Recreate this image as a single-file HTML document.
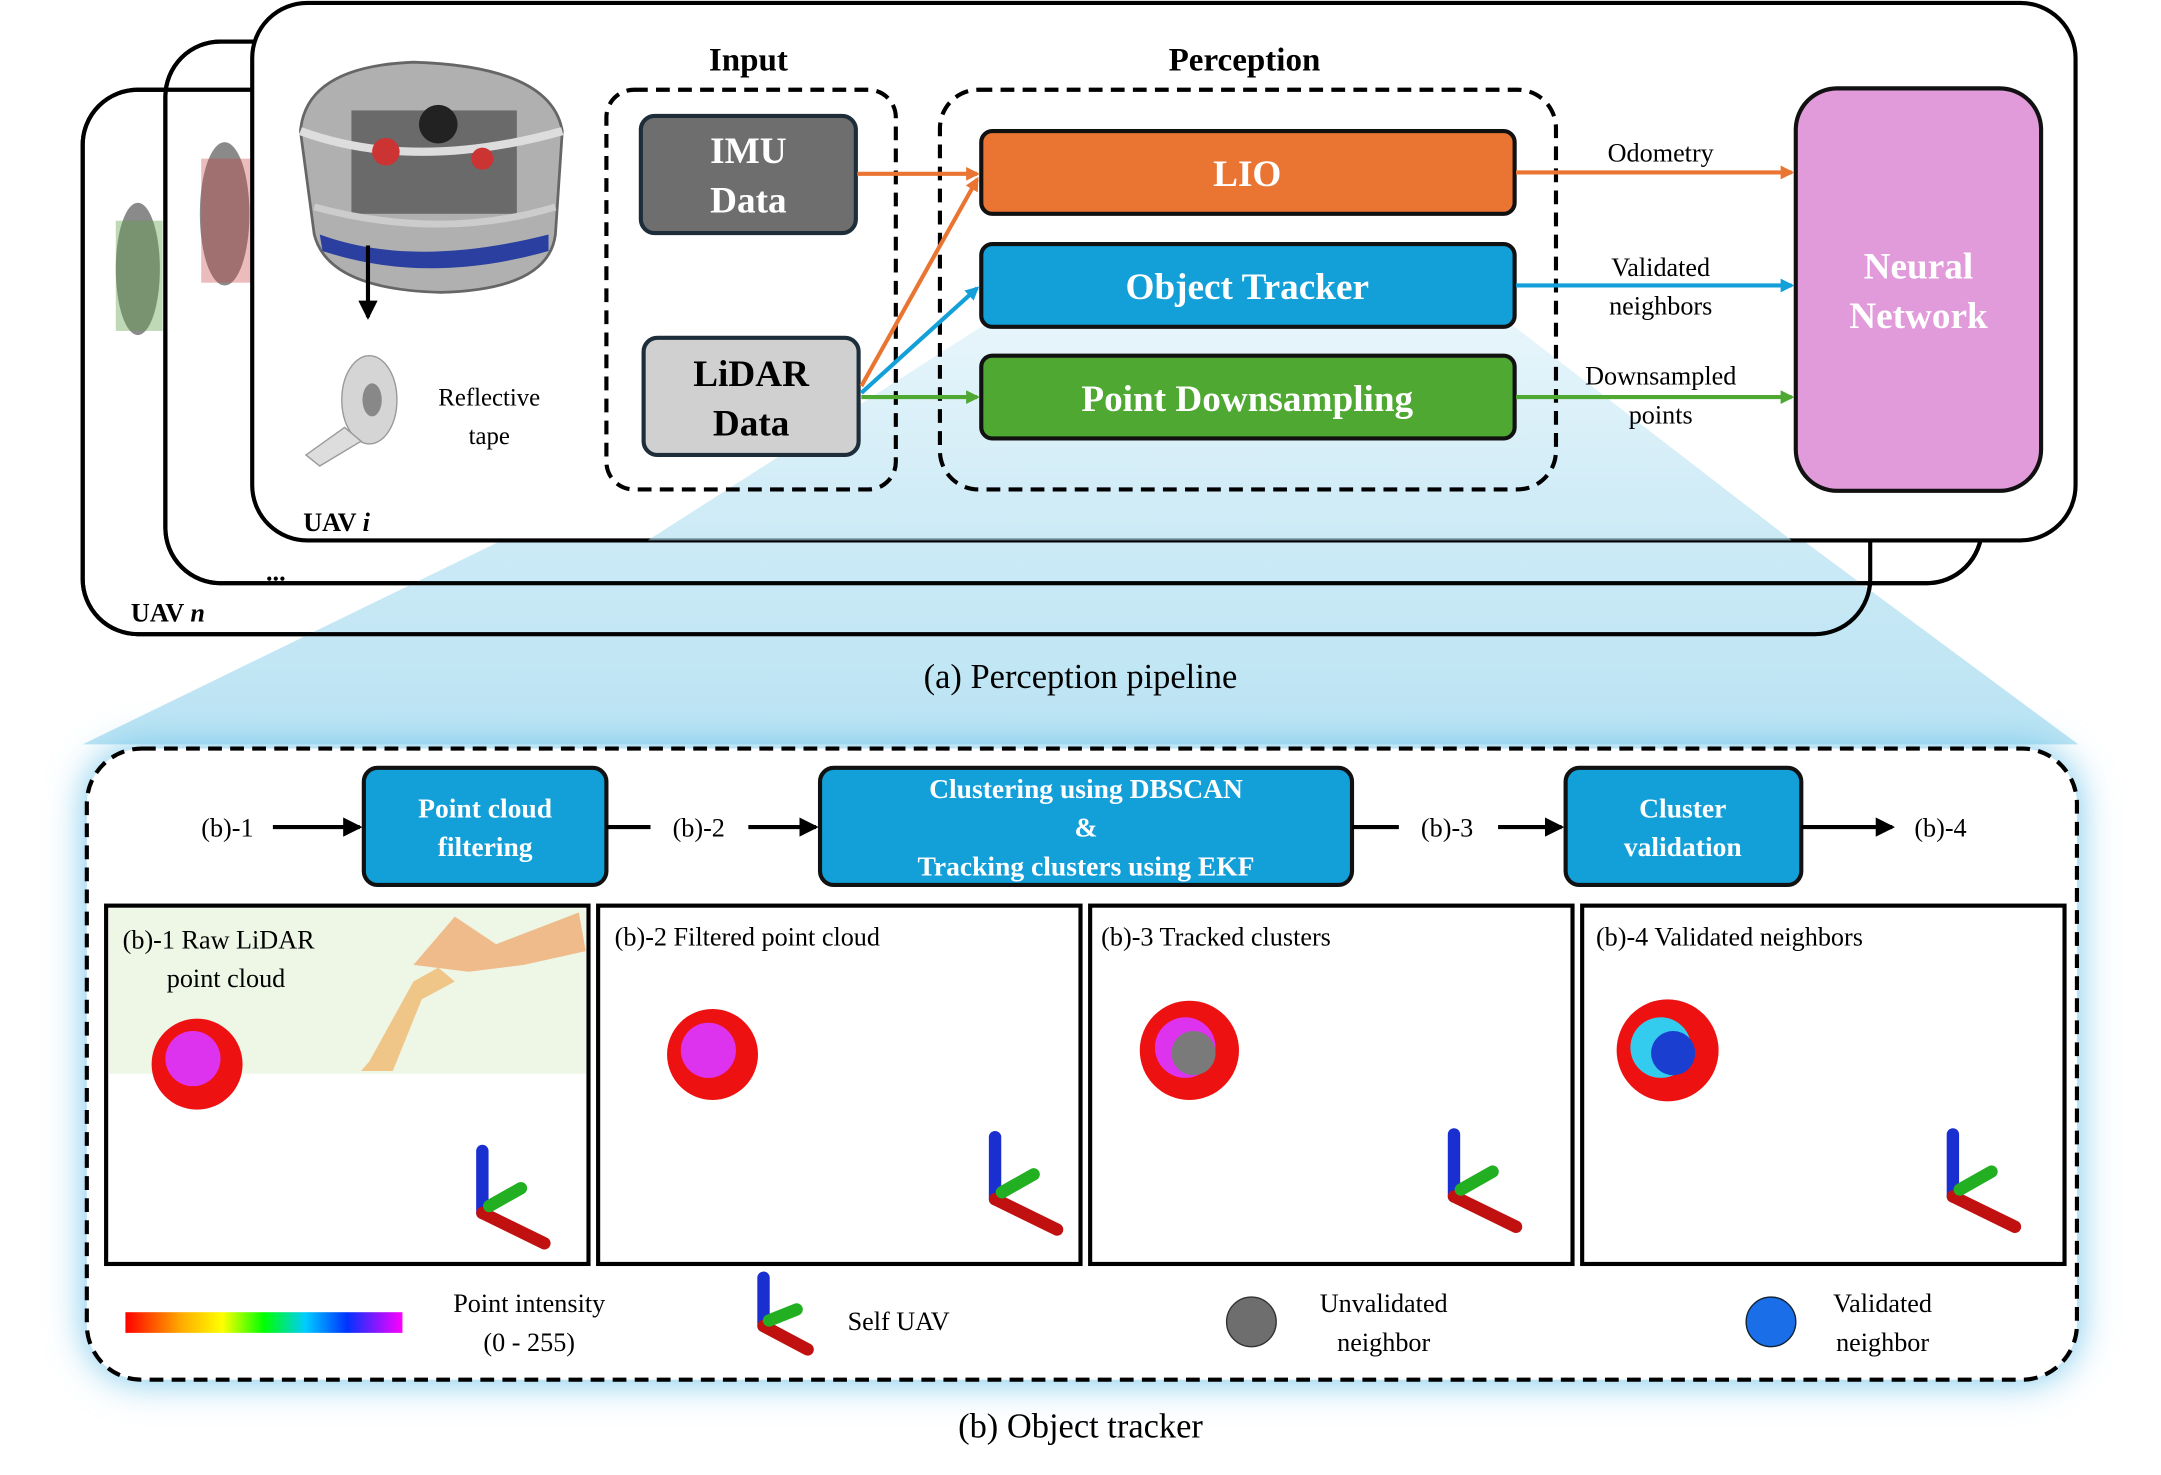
<!DOCTYPE html>
<html><head><meta charset="utf-8"><style>
html,body{margin:0;padding:0;background:#fff;}
svg{display:block;}
text{font-family:"Liberation Serif","Times New Roman",serif;}
</style></head><body>
<svg width="2161" height="1475" viewBox="0 0 1568 1070" xmlns="http://www.w3.org/2000/svg">
<defs>
<linearGradient id="tri" x1="0" y1="0" x2="0" y2="1">
<stop offset="0" stop-color="#d6eef8"/><stop offset="1" stop-color="#a9dcf0"/>
</linearGradient>
<filter id="glow" x="-10%" y="-20%" width="120%" height="140%">
<feGaussianBlur stdDeviation="14"/>
</filter>
<linearGradient id="rainbow" x1="0" x2="1">
<stop offset="0" stop-color="#ff0000"/><stop offset="0.2" stop-color="#ffaa00"/><stop offset="0.35" stop-color="#ffff00"/><stop offset="0.5" stop-color="#00ff00"/><stop offset="0.65" stop-color="#00ccff"/><stop offset="0.8" stop-color="#0033ff"/><stop offset="1" stop-color="#ff00ff"/>
</linearGradient>
<marker id="ao" markerWidth="10" markerHeight="10" refX="8" refY="5" orient="auto" markerUnits="userSpaceOnUse"><path d="M0,0 L10,5 L0,10z" fill="#ea7533"/></marker>
<marker id="ab" markerWidth="10" markerHeight="10" refX="8" refY="5" orient="auto" markerUnits="userSpaceOnUse"><path d="M0,0 L10,5 L0,10z" fill="#139fd8"/></marker>
<marker id="ag" markerWidth="10" markerHeight="10" refX="8" refY="5" orient="auto" markerUnits="userSpaceOnUse"><path d="M0,0 L10,5 L0,10z" fill="#4ea832"/></marker>
<marker id="ak" markerWidth="14" markerHeight="14" refX="12" refY="7" orient="auto" markerUnits="userSpaceOnUse"><path d="M0,0 L14,7 L0,14z" fill="#000"/></marker>
</defs>

<!-- back cards -->
<rect x="60" y="65" width="1297" height="395" rx="40" fill="#fff" stroke="#000" stroke-width="3"/>
<rect x="120" y="30" width="1318" height="393" rx="40" fill="#fff" stroke="#000" stroke-width="3"/>
<ellipse cx="100" cy="195" rx="16" ry="48" fill="#8a8a8a"/>
<rect x="84" y="160" width="34" height="80" fill="#5fa048" opacity="0.4"/>
<ellipse cx="163" cy="155" rx="18" ry="52" fill="#8a8a8a"/>
<rect x="146" y="115" width="36" height="90" fill="#c84040" opacity="0.35"/>

<!-- light blue projection -->
<polygon points="712,237 1099,237 1508,540 60,540 440,355 650,355" fill="url(#tri)" opacity="0.8"/>
<!-- re-stroke back cards over triangle -->
<rect x="60" y="65" width="1297" height="395" rx="40" fill="none" stroke="#000" stroke-width="3"/>
<rect x="120" y="30" width="1318" height="393" rx="40" fill="none" stroke="#000" stroke-width="3"/>
<rect x="92" y="430" width="80" height="25" fill="#fff"/>
<text x="95" y="451" font-size="19" font-weight="bold">UAV <tspan font-style="italic">n</tspan></text>
<text x="193" y="421" font-size="19" font-weight="bold">...</text>

<!-- front card -->
<rect x="183" y="2" width="1323" height="390" rx="40" fill="#fff" stroke="#000" stroke-width="3"/>
<polygon points="712,237 1099,237 1300,392 470,392" fill="url(#tri)" opacity="0.6"/>

<!-- drone -->
<g>
<path d="M218,95 Q222,48 300,45 Q400,48 408,95 L403,170 Q398,210 320,212 Q238,210 228,170z" fill="#b0b0b0" stroke="#666" stroke-width="2"/>
<rect x="255" y="80" width="120" height="75" fill="#6a6a6a"/>
<circle cx="318" cy="90" r="14" fill="#222"/>
<path d="M232,170 Q300,195 398,170 L398,182 Q310,207 234,182z" fill="#2a3fa0"/>
<path d="M218,95 Q300,125 408,95" fill="none" stroke="#ddd" stroke-width="6"/>
<path d="M228,150 Q320,175 403,150" fill="none" stroke="#ccc" stroke-width="5"/>
<circle cx="280" cy="110" r="10" fill="#c33"/><circle cx="350" cy="115" r="8" fill="#c33"/>
</g>
<line x1="267" y1="178" x2="267" y2="230" stroke="#000" stroke-width="3" marker-end="url(#ak)"/>
<!-- tape -->
<ellipse cx="268" cy="290" rx="20" ry="32" fill="#d5d5d5" stroke="#999"/>
<ellipse cx="270" cy="290" rx="7" ry="12" fill="#888"/>
<path d="M250,310 L222,330 L232,338 L262,320z" fill="#ddd" stroke="#999"/>
<text x="355" y="294" font-size="18" text-anchor="middle">Reflective</text>
<text x="355" y="322" font-size="18" text-anchor="middle">tape</text>
<text x="220" y="385" font-size="19" font-weight="bold">UAV <tspan font-style="italic">i</tspan></text>

<!-- dashed groups -->
<text x="543" y="51" font-size="24" font-weight="bold" text-anchor="middle">Input</text>
<text x="903" y="51" font-size="24" font-weight="bold" text-anchor="middle">Perception</text>
<rect x="440" y="65" width="210" height="290" rx="20" fill="none" stroke="#000" stroke-width="3" stroke-dasharray="10,6"/>
<rect x="682" y="65" width="447" height="290" rx="28" fill="none" stroke="#000" stroke-width="3" stroke-dasharray="10,6"/>

<rect x="465" y="84" width="156" height="85" rx="10" fill="#6e6e6e" stroke="#1d2e3a" stroke-width="3"/>
<text x="543" y="118" font-size="27" font-weight="bold" fill="#fff" text-anchor="middle">IMU</text>
<text x="543" y="154" font-size="27" font-weight="bold" fill="#fff" text-anchor="middle">Data</text>
<rect x="467" y="245" width="156" height="85" rx="10" fill="#d0d0d0" stroke="#1d2e3a" stroke-width="3"/>
<text x="545" y="280" font-size="27" font-weight="bold" text-anchor="middle">LiDAR</text>
<text x="545" y="316" font-size="27" font-weight="bold" text-anchor="middle">Data</text>

<rect x="712" y="95" width="387" height="60" rx="8" fill="#ea7533" stroke="#111" stroke-width="3"/>
<text x="905" y="135" font-size="27" font-weight="bold" fill="#fff" text-anchor="middle">LIO</text>
<rect x="712" y="177" width="387" height="60" rx="8" fill="#139fd8" stroke="#111" stroke-width="3"/>
<text x="905" y="217" font-size="27" font-weight="bold" fill="#fff" text-anchor="middle">Object Tracker</text>
<rect x="712" y="258" width="387" height="60" rx="8" fill="#4ea832" stroke="#111" stroke-width="3"/>
<text x="905" y="298" font-size="27" font-weight="bold" fill="#fff" text-anchor="middle">Point Downsampling</text>

<rect x="1303" y="64" width="178" height="292" rx="30" fill="#e19bdb" stroke="#111" stroke-width="3"/>
<text x="1392" y="202" font-size="27" font-weight="bold" fill="#fff" text-anchor="middle">Neural</text>
<text x="1392" y="238" font-size="27" font-weight="bold" fill="#fff" text-anchor="middle">Network</text>

<!-- arrows -->
<line x1="622" y1="126" x2="709" y2="126" stroke="#ea7533" stroke-width="3" marker-end="url(#ao)"/>
<line x1="625" y1="280" x2="709" y2="130" stroke="#ea7533" stroke-width="3" marker-end="url(#ao)"/>
<line x1="625" y1="285" x2="709" y2="209" stroke="#139fd8" stroke-width="3" marker-end="url(#ab)"/>
<line x1="625" y1="288" x2="709" y2="288" stroke="#4ea832" stroke-width="3" marker-end="url(#ag)"/>
<line x1="1100" y1="125" x2="1300" y2="125" stroke="#ea7533" stroke-width="3" marker-end="url(#ao)"/>
<line x1="1100" y1="207" x2="1300" y2="207" stroke="#139fd8" stroke-width="3" marker-end="url(#ab)"/>
<line x1="1100" y1="288" x2="1300" y2="288" stroke="#4ea832" stroke-width="3" marker-end="url(#ag)"/>
<text x="1205" y="117" font-size="19" text-anchor="middle">Odometry</text>
<text x="1205" y="200" font-size="19" text-anchor="middle">Validated</text>
<text x="1205" y="228" font-size="19" text-anchor="middle">neighbors</text>
<text x="1205" y="279" font-size="19" text-anchor="middle">Downsampled</text>
<text x="1205" y="307" font-size="19" text-anchor="middle">points</text>

<text x="784" y="499" font-size="25" text-anchor="middle">(a) Perception pipeline</text>

<!-- bottom panel -->
<rect x="63" y="543" width="1444" height="458" rx="40" fill="#6cc3ea" filter="url(#glow)"/>
<rect x="63" y="543" width="1444" height="458" rx="40" fill="#fff" stroke="#000" stroke-width="3" stroke-dasharray="10,6"/>

<text x="165" y="607" font-size="19" text-anchor="middle">(b)-1</text>
<line x1="198" y1="600" x2="261" y2="600" stroke="#000" stroke-width="3" marker-end="url(#ak)"/>
<rect x="264" y="557" width="176" height="85" rx="10" fill="#139fd8" stroke="#111" stroke-width="3"/>
<text x="352" y="593" font-size="20" font-weight="bold" fill="#fff" text-anchor="middle">Point cloud</text>
<text x="352" y="621" font-size="20" font-weight="bold" fill="#fff" text-anchor="middle">filtering</text>
<line x1="440" y1="600" x2="472" y2="600" stroke="#000" stroke-width="3"/>
<text x="507" y="607" font-size="19" text-anchor="middle">(b)-2</text>
<line x1="543" y1="600" x2="592" y2="600" stroke="#000" stroke-width="3" marker-end="url(#ak)"/>
<rect x="595" y="557" width="386" height="85" rx="10" fill="#139fd8" stroke="#111" stroke-width="3"/>
<text x="788" y="579" font-size="20" font-weight="bold" fill="#fff" text-anchor="middle">Clustering using DBSCAN</text>
<text x="788" y="607" font-size="20" font-weight="bold" fill="#fff" text-anchor="middle">&amp;</text>
<text x="788" y="635" font-size="20" font-weight="bold" fill="#fff" text-anchor="middle">Tracking clusters using EKF</text>
<line x1="981" y1="600" x2="1015" y2="600" stroke="#000" stroke-width="3"/>
<text x="1050" y="607" font-size="19" text-anchor="middle">(b)-3</text>
<line x1="1087" y1="600" x2="1133" y2="600" stroke="#000" stroke-width="3" marker-end="url(#ak)"/>
<rect x="1136" y="557" width="171" height="85" rx="10" fill="#139fd8" stroke="#111" stroke-width="3"/>
<text x="1221" y="593" font-size="20" font-weight="bold" fill="#fff" text-anchor="middle">Cluster</text>
<text x="1221" y="621" font-size="20" font-weight="bold" fill="#fff" text-anchor="middle">validation</text>
<line x1="1307" y1="600" x2="1373" y2="600" stroke="#000" stroke-width="3" marker-end="url(#ak)"/>
<text x="1408" y="607" font-size="19" text-anchor="middle">(b)-4</text>

<!-- panels -->
<g stroke="#000" stroke-width="3" fill="#fff">
<rect x="77" y="657" width="350" height="260"/>
<rect x="434" y="657" width="350" height="260"/>
<rect x="791" y="657" width="350" height="260"/>
<rect x="1148" y="657" width="350" height="260"/>
</g>
<!-- raw lidar background -->
<rect x="79" y="659" width="346" height="120" fill="#eef6e6"/>
<path d="M262,777 L268,770 L300,712 L318,702 L330,712 L306,725 L285,777z" fill="#f0b060" opacity="0.7"/>
<path d="M300,700 L330,665 L360,685 L420,662 L425,690 L380,700 L340,705z" fill="#f08030" opacity="0.5"/>
<text x="89" y="688" font-size="19">(b)-1 Raw LiDAR</text>
<text x="121" y="716" font-size="19">point cloud</text>
<text x="446" y="686" font-size="19">(b)-2 Filtered point cloud</text>
<text x="799" y="686" font-size="19">(b)-3 Tracked clusters</text>
<text x="1158" y="686" font-size="19">(b)-4 Validated neighbors</text>

<!-- blobs -->
<g>
<circle cx="143" cy="772" r="33" fill="#ee1111"/><circle cx="140" cy="768" r="20" fill="#dd33ee"/>
<circle cx="517" cy="765" r="33" fill="#ee1111"/><circle cx="514" cy="762" r="20" fill="#dd33ee"/>
<circle cx="863" cy="762" r="36" fill="#ee1111"/><circle cx="860" cy="760" r="22" fill="#dd33ee"/><circle cx="866" cy="764" r="16" fill="#7a7a7a"/>
<circle cx="1210" cy="762" r="37" fill="#ee1111"/><circle cx="1205" cy="760" r="22" fill="#33ccee"/><circle cx="1214" cy="764" r="16" fill="#1a3fd0"/>
</g>

<!-- axes -->
<g stroke-width="9" stroke-linecap="round">
<g transform="translate(350,880)"><line x1="0" y1="0" x2="0" y2="-45" stroke="#1a2fd0"/><line x1="0" y1="0" x2="45" y2="22" stroke="#c01010"/><line x1="5" y1="-5" x2="28" y2="-18" stroke="#22b022"/></g>
<g transform="translate(722,870)"><line x1="0" y1="0" x2="0" y2="-45" stroke="#1a2fd0"/><line x1="0" y1="0" x2="45" y2="22" stroke="#c01010"/><line x1="5" y1="-5" x2="28" y2="-18" stroke="#22b022"/></g>
<g transform="translate(1055,868)"><line x1="0" y1="0" x2="0" y2="-45" stroke="#1a2fd0"/><line x1="0" y1="0" x2="45" y2="22" stroke="#c01010"/><line x1="5" y1="-5" x2="28" y2="-18" stroke="#22b022"/></g>
<g transform="translate(1417,868)"><line x1="0" y1="0" x2="0" y2="-45" stroke="#1a2fd0"/><line x1="0" y1="0" x2="45" y2="22" stroke="#c01010"/><line x1="5" y1="-5" x2="28" y2="-18" stroke="#22b022"/></g>
<g transform="translate(554,962)"><line x1="0" y1="0" x2="0" y2="-35" stroke="#1a2fd0"/><line x1="0" y1="0" x2="32" y2="17" stroke="#c01010"/><line x1="4" y1="-4" x2="24" y2="-12" stroke="#22b022"/></g>
</g>

<!-- legend -->
<rect x="91" y="952" width="201" height="15" fill="url(#rainbow)"/>
<text x="384" y="952" font-size="19" text-anchor="middle">Point intensity</text>
<text x="384" y="980" font-size="19" text-anchor="middle">(0 - 255)</text>
<text x="615" y="965" font-size="19">Self UAV</text>
<circle cx="908" cy="959" r="18" fill="#6e6e6e" stroke="#333"/>
<text x="1004" y="952" font-size="19" text-anchor="middle">Unvalidated</text>
<text x="1004" y="980" font-size="19" text-anchor="middle">neighbor</text>
<circle cx="1285" cy="959" r="18" fill="#1a6fe8" stroke="#123"/>
<text x="1366" y="952" font-size="19" text-anchor="middle">Validated</text>
<text x="1366" y="980" font-size="19" text-anchor="middle">neighbor</text>

<text x="784" y="1043" font-size="25" text-anchor="middle">(b) Object tracker</text>
</svg>
</body></html>
